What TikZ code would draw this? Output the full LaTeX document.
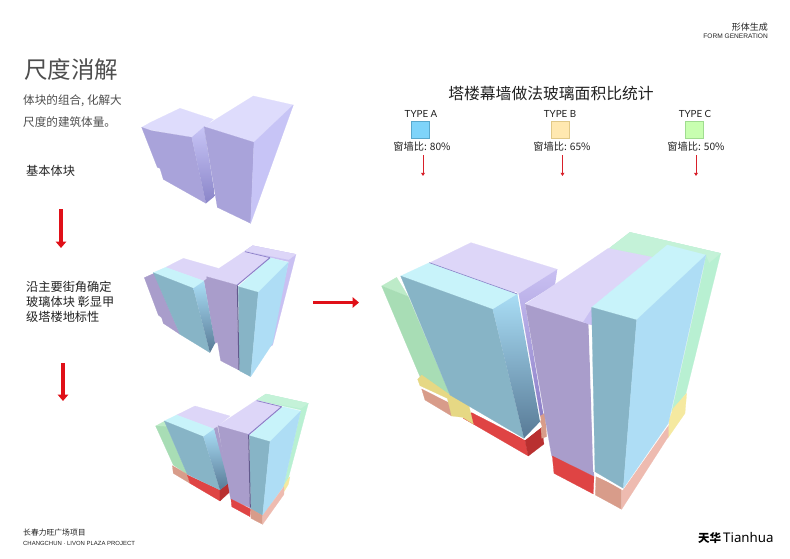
\documentclass[tikz,border=0pt]{standalone}
\usepackage{fontspec}
\setmainfont{Noto Sans CJK SC}
\newfontfamily\latin{Liberation Sans}
\newfontfamily\typefont{Lato}
\newfontfamily\logofont{Noto Sans}
\usetikzlibrary{arrows.meta}
\definecolor{ptop}{HTML}{DDD6F8}
\definecolor{pface}{HTML}{A99DCB}
\definecolor{pside}{HTML}{C9C0F2}
\definecolor{pdark}{HTML}{8C7FC8}
\definecolor{btop}{HTML}{C8F3FA}
\definecolor{bface}{HTML}{87B4C6}
\definecolor{bside}{HTML}{AEDDF5}
\definecolor{bsidea}{HTML}{A9DDF5}
\definecolor{bsideb}{HTML}{587A96}
\definecolor{gface}{HTML}{A8DDB5}
\definecolor{gtop}{HTML}{BDEBC8}
\definecolor{gside}{HTML}{B8F0D2}
\definecolor{gbtop}{HTML}{C4F2D8}
\definecolor{ytop}{HTML}{E6D884}
\definecolor{yside}{HTML}{F5E9A0}
\definecolor{ppk}{HTML}{D89C8A}
\definecolor{ppks}{HTML}{EEBBB0}
\definecolor{redf}{HTML}{DF4444}
\definecolor{reds}{HTML}{B93030}
\definecolor{wtop}{HTML}{DEDCFC}
\definecolor{wface}{HTML}{A9A3DA}
\definecolor{wside}{HTML}{C7C4F6}
\definecolor{wdark}{HTML}{8A85C8}
\definecolor{arrowred}{HTML}{E01018}
\definecolor{thinred}{HTML}{D8202A}
\definecolor{txt}{HTML}{222222}
\definecolor{intro}{HTML}{4E4E4E}
\definecolor{sa}{HTML}{7FD4FA}\definecolor{sad}{HTML}{5AA8CC}
\definecolor{sb}{HTML}{FFE8B0}\definecolor{sbd}{HTML}{E0C888}
\definecolor{sc}{HTML}{C8FFB0}\definecolor{scd}{HTML}{A0DC90}
\tikzset{
  face/.style={fill=#1,draw=#1,line width=.2pt,line join=round},
  grad/.style 2 args={top color=#1,bottom color=#2,draw=none},
  bigarrow/.style={draw=arrowred,line width=3.4pt,-{Triangle[length=6.5pt,width=10.5pt]}},
  thinarrow/.style={draw=thinred,line width=.9pt,-{Triangle[length=3.2pt,width=3.8pt]}},
  lbl/.style={inner sep=0pt,anchor=west,text=txt},
  intr/.style={inner sep=0pt,anchor=west,text=intro,font=\fontsize{11.6}{13}\selectfont},
  stepl/.style={inner sep=0pt,anchor=west,text=txt,font=\fontsize{12.2}{14}\selectfont},
  typel/.style={inner sep=0pt,text=txt,font=\typefont\fontsize{9.8}{11}\selectfont},
  ratiol/.style={inner sep=0pt,text=txt,font=\fontsize{10.2}{12}\selectfont},
  swatch/.style={minimum width=18pt,minimum height=16.5pt,inner sep=0pt,line width=.7pt},
}
\begin{document}
\begin{tikzpicture}[x=1pt,y=-1pt]
\useasboundingbox (0,0) rectangle (790,558);
\fill[white] (0,0) rectangle (790,558);

% building 1: base mass
\begin{scope}[shift={(130,90)},x=.3333pt,y=-.3333pt]
\path[face=wtop] (35,112) -- (48,105) -- (60,98) -- (150,55) -- (250,88) -- (185,142) -- (65,120) -- cycle;
\path[face=wface] (35,112) -- (65,122) -- (185,142) -- (228,340) -- (100,268) -- (90,235) -- (82,232) -- cycle;
\path[grad={wside}{wdark}] (185,142) -- (222,110) -- (255,318) -- (228,340) -- cycle;
\path[face=wtop] (222,110) -- (370,18) -- (490,45) -- (372,157) -- cycle;
\path[face=wface] (222,110) -- (372,157) -- (362,400) -- (262,352) -- cycle;
\path[face=wside] (372,157) -- (490,45) -- (362,400) -- cycle;
\end{scope}

% building 2: glass volumes
\begin{scope}[shift={(130,235)},x=.3333pt,y=-.3333pt]
\path[face=pside] (368,32) -- (498,58) -- (428,330) -- (420,335) -- (476,80) -- (420,68) -- (345,48) -- cycle;
\path[face=ptop] (345,48) -- (368,32) -- (498,58) -- (476,74) -- cycle;
\path[face=ptop] (107,97) -- (160,70) -- (265,100) -- (222,138) -- cycle;
\path[face=pface] (222,138) -- (232,130) -- (266,320) -- (255,325) -- cycle;
\path[face=pface] (43,128) -- (72,115) -- (150,298) -- (100,265) -- (95,248) -- (85,240) -- cycle;
\path[face=btop] (70,113) -- (107,97) -- (222,138) -- (190,160) -- cycle;
\path[face=bface] (70,113) -- (190,160) -- (240,353) -- (150,298) -- cycle;
\path[grad={bsidea}{bsideb}] (190,160) -- (222,138) -- (255,325) -- (240,353) -- cycle;
\path[face=ptop] (230,125) -- (345,48) -- (420,68) -- (320,150) -- cycle;
\path[face=pface] (230,125) -- (320,150) -- (326,405) -- (272,377) -- cycle;
\path[face=btop] (325,155) -- (420,68) -- (475,82) -- (385,172) -- cycle;
\path[face=bface] (325,155) -- (385,172) -- (362,425) -- (328,407) -- cycle;
\path[face=bside] (385,172) -- (475,82) -- (428,325) -- (362,425) -- cycle;
\draw[pdark,line width=.7pt] (345,50) -- (420,68);
\draw[pdark,line width=1pt] (320,152) -- (420,68);
\draw[pdark!70!black,line width=1pt] (322,152) -- (327,405);
\end{scope}

% building 3: small version of the result
\begin{scope}[shift={(140,385)},x=.3333pt,y=-.3333pt]
\path[face=gside] (378,27) -- (505,55) -- (445,280) -- (430,305) -- (483,75) -- (425,62) -- (350,45) -- cycle;
\path[face=gbtop] (350,45) -- (378,27) -- (505,55) -- (483,70) -- cycle;
\path[face=yside] (445,280) -- (450,275) -- (445,298) -- (432,320) -- (430,305) -- cycle;
\path[face=gtop] (47,123) -- (75,108) -- (100,180) -- cycle;
\path[face=gface] (47,123) -- (80,125) -- (142,268) -- (100,240) -- cycle;
\path[face=ptop] (110,90) -- (165,63) -- (270,93) -- (222,132) -- cycle;
\path[face=pface] (222,132) -- (232,125) -- (268,292) -- (262,298) -- cycle;
\path[face=ppk] (97,242) -- (142,268) -- (150,295) -- (100,265) -- cycle;
\path[face=redf] (142,270) -- (240,315) -- (240,348) -- (150,295) -- cycle;
\path[face=reds] (240,315) -- (265,295) -- (268,322) -- (240,348) -- cycle;
\path[face=btop] (73,108) -- (110,90) -- (222,132) -- (190,155) -- cycle;
\path[face=bface] (73,108) -- (190,155) -- (240,315) -- (142,268) -- cycle;
\path[grad={bsidea}{bsideb}] (190,155) -- (222,132) -- (265,295) -- (240,315) -- cycle;
\path[face=ptop] (234,122) -- (350,45) -- (425,65) -- (327,150) -- cycle;
\path[face=pface] (234,122) -- (325,148) -- (330,368) -- (272,342) -- cycle;
\path[face=redf] (273,342) -- (332,372) -- (330,395) -- (275,365) -- cycle;
\path[face=btop] (328,152) -- (428,65) -- (482,78) -- (390,170) -- cycle;
\path[face=bface] (328,152) -- (390,170) -- (368,392) -- (332,372) -- cycle;
\path[face=bside] (390,170) -- (482,78) -- (430,305) -- (368,392) -- cycle;
\path[face=ppk] (333,372) -- (368,392) -- (368,418) -- (333,400) -- cycle;
\path[face=ppks] (368,392) -- (432,305) -- (432,328) -- (368,418) -- cycle;
\draw[pdark,line width=.7pt] (350,47) -- (425,65);
\draw[pdark,line width=1pt] (325,150) -- (425,65);
\draw[pdark!70!black,line width=1pt] (326,150) -- (331,368);
\end{scope}

% large building
\begin{scope}[shift={(370,220)},x=.3333pt,y=-.3333pt]
% back green mass
\path[face=gside] (780,37) -- (1052,100) -- (948,520) -- (905,575) -- (1000,150) -- (1008,105) -- (892,75) -- (835,112) -- (718,85) -- cycle;
\path[face=gbtop] (718,85) -- (780,37) -- (1052,100) -- (1018,128) -- (1008,105) -- (892,75) -- (850,112) -- (835,112) -- cycle;
\path[face=yside] (910,565) -- (950,520) -- (945,580) -- (893,655) -- (897,600) -- cycle;
% left green
\path[face=gtop] (35,198) -- (80,172) -- (115,230) -- cycle;
\path[face=gface] (35,198) -- (115,230) -- (240,525) -- (150,470) -- cycle;
% left base
\path[face=white] (150,497) -- (240,540) -- (240,552) -- (155,510) -- cycle;
\path[face=ppk] (155,507) -- (240,550) -- (245,588) -- (165,540) -- cycle;
\path[face=redf] (305,578) -- (465,660) -- (475,708) -- (280,595) -- cycle;
\path[face=reds] (475,708) -- (522,672) -- (515,622) -- (465,660) -- cycle;
\path[face=ppk] (510,585) -- (525,580) -- (530,650) -- (515,655) -- cycle;
% purple back volume
\path[face=ptop] (180,128) -- (303,68) -- (562,148) -- (445,222) -- cycle;
\path[grad={pside}{pdark}] (445,222) -- (562,148) -- (555,195) -- (465,250) -- (520,582) -- (505,590) -- cycle;
% white slab under left tower
\path[face=white] (240,520) -- (462,650) -- (512,610) -- (515,620) -- (465,660) -- (240,530) -- cycle;
\path[face=ytop] (143,478) -- (155,465) -- (240,525) -- (295,550) -- (310,612) -- (278,592) -- (245,588) -- (232,535) -- (150,497) -- cycle;
% left blue tower
\path[face=white] (435,215) -- (445,222) -- (512,600) -- (505,605) -- cycle;
\path[face=btop] (92,168) -- (178,128) -- (442,222) -- (368,268) -- cycle;
\path[face=bface] (92,168) -- (368,268) -- (462,655) -- (240,525) -- cycle;
\path[grad={bsidea}{bsideb}] (368,268) -- (442,222) -- (510,605) -- (462,655) -- cycle;
\draw[pdark,line width=.6pt] (178,128) -- (442,222);
% right purple tower
\path[face=ptop] (466,253) -- (715,85) -- (850,112) -- (670,262) -- (640,308) -- cycle;
\path[face=pface] (466,253) -- (640,308) -- (655,310) -- (672,770) -- (545,708) -- cycle;
\path[face=redf] (547,708) -- (672,770) -- (670,822) -- (552,760) -- cycle;
% gap beside the right tower
\path[face=pside] (640,306) -- (670,260) -- (668,316) -- (655,312) -- cycle;
\path[face=white] (657,316) -- (668,318) -- (678,760) -- (670,755) -- cycle;
% pink base
\path[face=ppk] (678,770) -- (755,805) -- (755,868) -- (676,825) -- cycle;
\path[face=ppks] (755,805) -- (895,612) -- (895,650) -- (755,868) -- cycle;
\path[face=white] (675,752) -- (760,802) -- (895,605) -- (896,614) -- (758,810) -- (675,763) -- cycle;
% right blue tower
\path[face=btop] (665,262) -- (892,75) -- (1008,105) -- (800,300) -- cycle;
\path[face=bface] (665,262) -- (800,300) -- (760,805) -- (675,755) -- cycle;
\path[face=bside] (800,300) -- (1008,105) -- (895,610) -- (760,805) -- cycle;
\end{scope}

% text, left column
\node[lbl,text=intro,font=\fontsize{23.5}{26}\selectfont] (title) at (24,70) {尺度消解};
\node[intr] (introa) at (23,101) {体块的组合, 化解大};
\node[intr] (introb) at (23,122) {尺度的建筑体量。};
\node[stepl] (stepa) at (26,171) {基本体块};
\node[stepl] (stepb) at (26,287) {沿主要街角确定};
\node[stepl] (stepc) at (26,302) {玻璃体块 彰显甲};
\node[stepl] (stepd) at (26,317) {级塔楼地标性};

% big arrows
\coordinate (aa) at (61,209); \coordinate (ab) at (61,248);
\coordinate (ba) at (63,363); \coordinate (bb) at (63,401);
\coordinate (ca) at (313,302.5); \coordinate (cb) at (359,302.5);
\draw[bigarrow] (aa) -- (ab);
\draw[bigarrow] (ba) -- (bb);
\draw[bigarrow] (ca) -- (cb);

% chart legend
\node[inner sep=0pt,text=txt,font=\fontsize{15.8}{18}\selectfont] (chart) at (551,93) {塔楼幕墙做法玻璃面积比统计};
\node[typel] (ta) at (421,114) {TYPE A};
\node[typel] (tb) at (560,114) {TYPE B};
\node[typel] (tc) at (695,114) {TYPE C};
\node[swatch,fill=sa,draw=sad] (sA) at (420,130) {};
\node[swatch,fill=sb,draw=sbd] (sB) at (560,130) {};
\node[swatch,fill=sc,draw=scd] (sC) at (694,130) {};
\node[ratiol] (ra) at (422,147) {窗墙比: 80\%};
\node[ratiol] (rb) at (562,147) {窗墙比: 65\%};
\node[ratiol] (rc) at (696,147) {窗墙比: 50\%};
\coordinate (da) at (423,155); \coordinate (db) at (423,176);
\coordinate (ea) at (562.5,155); \coordinate (eb) at (562.5,176);
\coordinate (fa) at (696,155); \coordinate (fb) at (696,176);
\draw[thinarrow] (da) -- (db);
\draw[thinarrow] (ea) -- (eb);
\draw[thinarrow] (fa) -- (fb);

% header and footer
\node[inner sep=0pt,anchor=east,text=txt,font=\fontsize{9}{10}\selectfont] (hd) at (768,27) {形体生成};
\node[inner sep=0pt,anchor=east,text=txt,font=\latin\fontsize{6.6}{7}\selectfont] (he) at (768,36) {FORM GENERATION};
\node[lbl,font=\fontsize{7.8}{9}\selectfont] (fa1) at (23,533) {长春力旺广场项目};
\node[lbl,font=\latin\fontsize{5.95}{7}\selectfont] (fb1) at (23,543) {CHANGCHUN · LIVON PLAZA PROJECT};
\node[lbl,text=black,font=\bfseries\fontsize{11.5}{13}\selectfont] (lg) at (698,538) {天华};
\node[lbl,text=black,font=\logofont\fontsize{13.3}{16}\selectfont] (lh) at (723,538) {Tianhua};
\end{tikzpicture}
\end{document}
